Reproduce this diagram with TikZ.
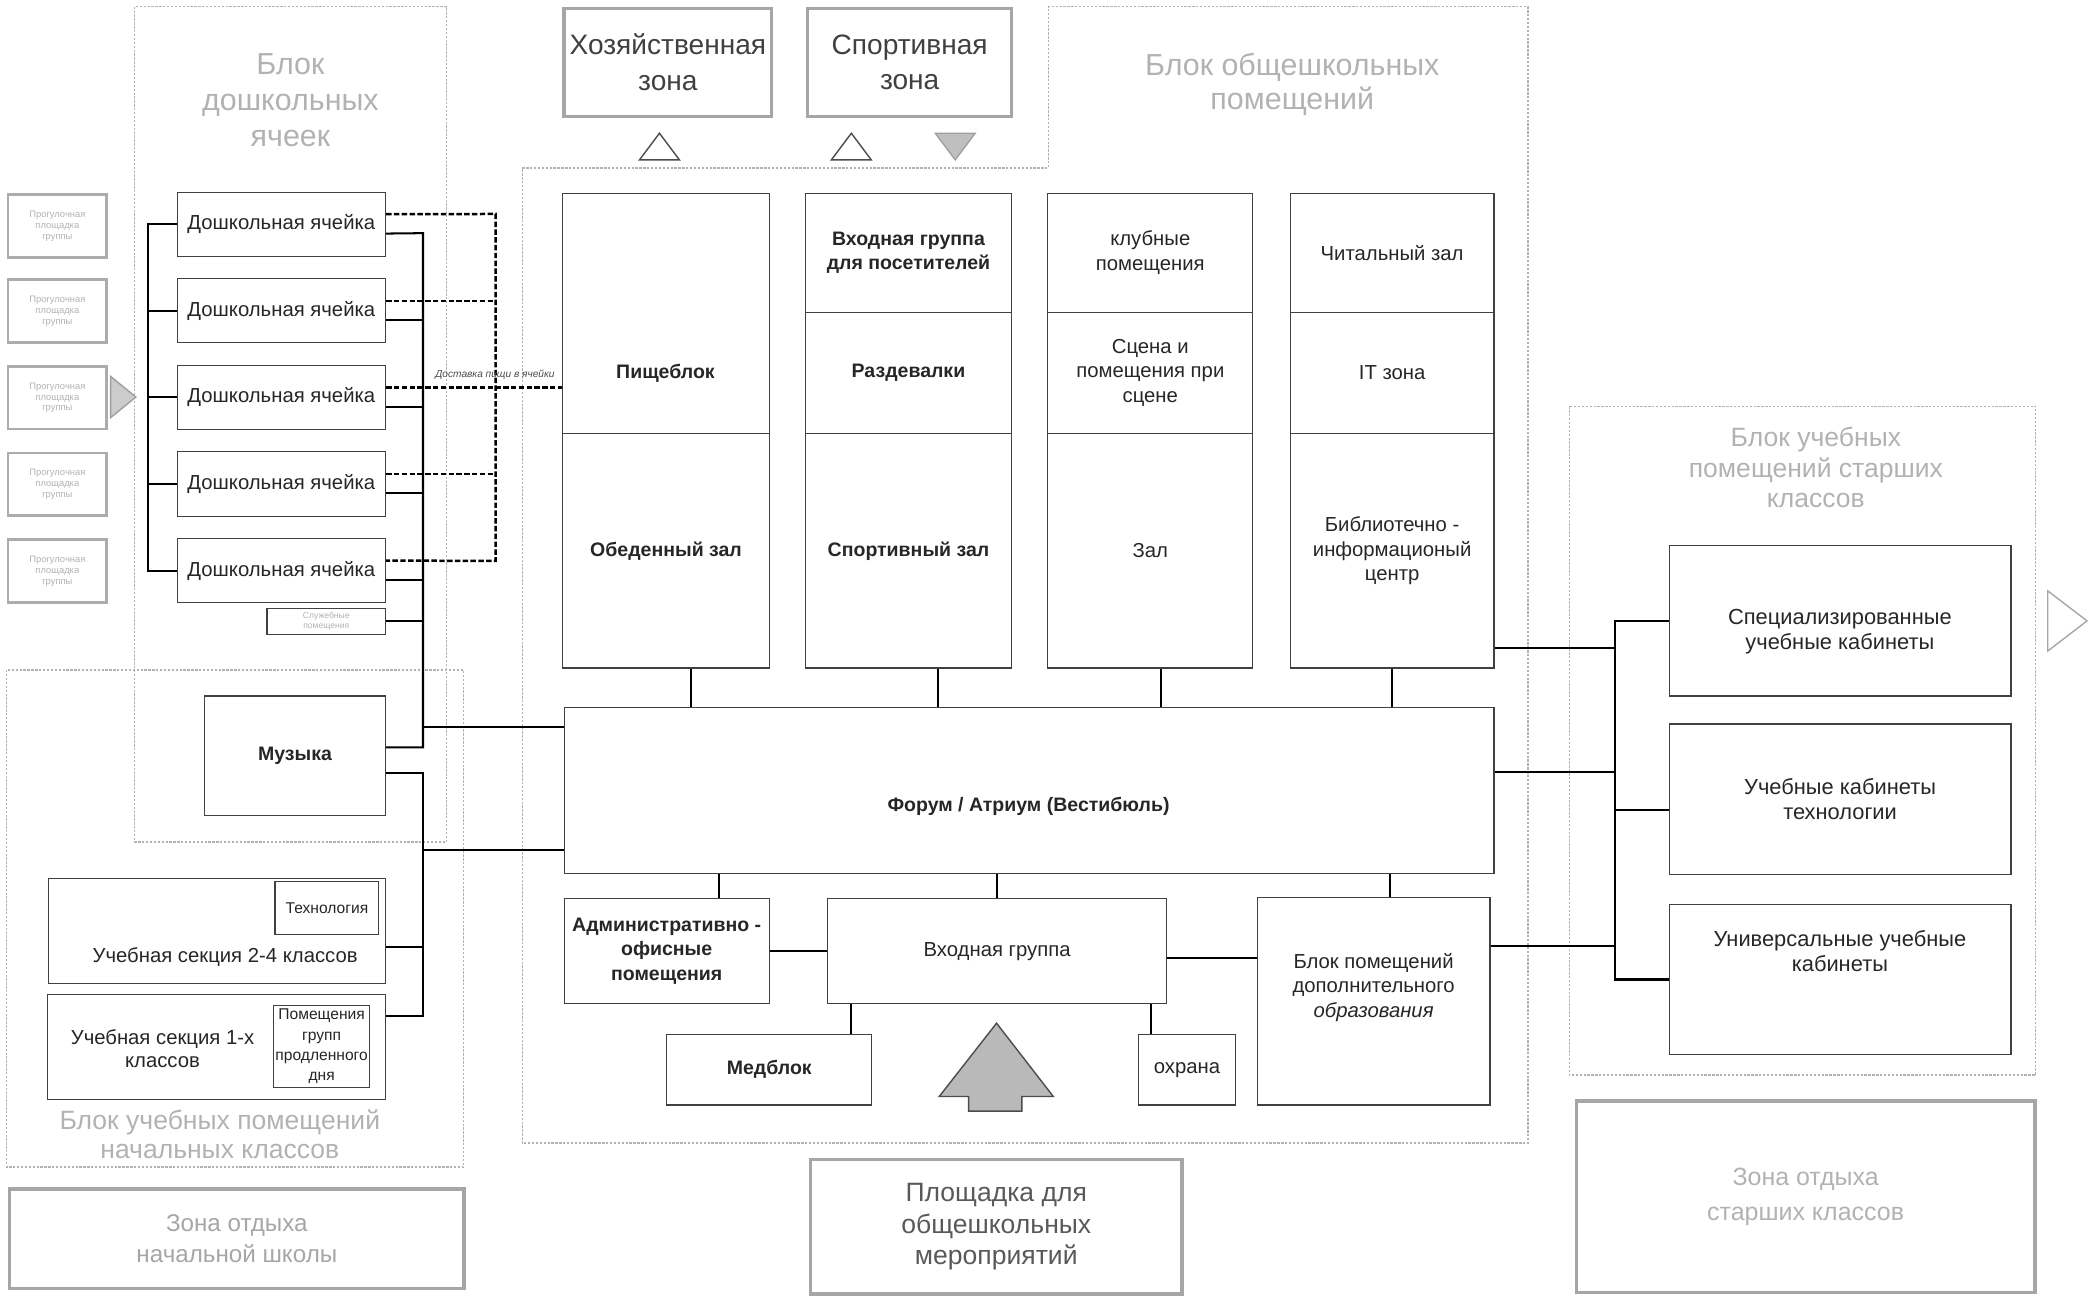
\documentclass[tikz,border=0pt]{standalone}
\usepackage{fontspec}
\setmainfont{Liberation Sans}
\usepackage{tikz}
\def\pxu{0.03cm}

\begin{document}
\begin{tikzpicture}[x=0.03cm,y=-0.03cm,
sz/.style 2 args={minimum width=#1*\pxu,minimum height=#2*\pxu},
room/.style={draw=black!75,line width=0.7pt,anchor=north west,inner sep=1pt,align=center,text=black!85,font=\fontsize{13}{15.6}\selectfont},
broom/.style={room,font=\fontsize{12.5}{15.5}\selectfont\bfseries},
sroom/.style={room,font=\fontsize{10}{13}\selectfont},
rroom/.style={room,font=\fontsize{14}{16}\selectfont},
txt/.style={inner sep=0pt,align=center,text=black!85,font=\fontsize{13}{15.6}\selectfont},
btxt/.style={txt,font=\fontsize{12.5}{15.5}\selectfont\bfseries},
zone/.style={draw=gray!70,line width=2.2pt,anchor=north west,inner sep=1pt,align=center,text=black!70,font=\fontsize{17}{20}\selectfont},
outbox/.style={draw=gray!65,line width=1.8pt,anchor=north west,inner sep=0pt,align=center,text=gray!60,font=\fontsize{6}{7}\selectfont},
grp/.style={draw=gray!60,line width=0.9pt,dash pattern=on 1.5pt off 1pt},
grptitle/.style={align=center,text=gray!60,font=\fontsize{19.5}{23}\selectfont},
con/.style={draw=black,line width=1.3pt},
dcon/.style={draw=black,line width=1.6pt,dash pattern=on 3.5pt off 1.5pt},
clabel/.style={inner sep=0pt,text=black!70,font=\fontsize{6.5}{7.5}\selectfont\itshape},
tri/.style={draw=black!70,line width=0.9pt,fill=white},
trifill/.style={draw=gray!75,line width=0.9pt,fill=gray!50}]
\useasboundingbox (0,0) rectangle (1568,974);

\draw[grp] (101,5) rectangle (335,632);
\draw[grp] (5,503) rectangle (348,876);
\draw[grp] (392,126) -- (787,126) -- (787,5) -- (1147,5) -- (1147,858) -- (392,858) -- cycle;
\draw[grp] (1178,305) rectangle (1528,807);
\node[grptitle] (tpre) at (218,75) {Блок\\дошкольных\\ячеек};
\node[grptitle,font=\fontsize{17}{18.5}\selectfont] (tprim) at (165,851.5) {Блок учебных помещений\\начальных классов};
\node[grptitle,font=\fontsize{19.5}{21.5}\selectfont] (tobsh) at (970,63.5) {Блок общешкольных\\помещений};
\node[grptitle,font=\fontsize{17}{19.5}\selectfont] (tsen) at (1363,351) {Блок учебных\\помещений старших\\классов};

\node[zone,sz={156}{81},font=\fontsize{18}{23}\selectfont,text=black!75] (hoz) at (422,5) {Хозяйственная\\зона};
\node[zone,sz={153}{81},font=\fontsize{18}{23}\selectfont,text=black!75] (sport) at (605,5) {Спортивная\\зона};
\node[zone,sz={279}{101},text=black!65] (plosh) at (607,869) {Площадка для\\общешкольных\\мероприятий};
\node[zone,sz={341}{75},font=\fontsize{15.5}{19.6}\selectfont,text=gray!70] (zn) at (6,891) {Зона отдыха\\начальной школы};
\node[zone,sz={344}{144},font=\fontsize{16}{22}\selectfont,text=gray!60] (zs) at (1182,825) {Зона отдыха\\старших классов};

\node[outbox,sz={74}{47}] (p1) at (5,145) {Прогулочная\\площадка\\группы};
\node[outbox,sz={74}{47}] (p2) at (5,209) {Прогулочная\\площадка\\группы};
\node[outbox,sz={74}{47}] (p3) at (5,274) {Прогулочная\\площадка\\группы};
\node[outbox,sz={74}{47}] (p4) at (5,339) {Прогулочная\\площадка\\группы};
\node[outbox,sz={74}{47}] (p5) at (5,404) {Прогулочная\\площадка\\группы};

\draw[tri] (480,120) -- (495,100) -- (510,120) -- cycle;
\draw[tri] (624,120) -- (639,100) -- (654,120) -- cycle;
\draw[trifill] (702,100) -- (732,100) -- (717,120) -- cycle;
\draw[trifill,fill=gray!40] (83,282.5) -- (102,298) -- (83,313.5) -- cycle;
\draw[tri,draw=gray!70] (1537,443.5) -- (1566.5,466) -- (1537,488.7) -- cycle;
\draw[trifill,draw=black!70,fill=gray!55] (748,768) -- (790.6,823) -- (767,823) -- (767,834) -- (727,834) -- (727,823) -- (705,823) -- cycle;

\node[room,sz={156.5}{48.25}] (c1) at (132.5,143.75) {Дошкольная ячейка};
\node[room,sz={156.5}{48.25}] (c2) at (132.5,208.75) {Дошкольная ячейка};
\node[room,sz={156.5}{48.25}] (c3) at (132.5,273.75) {Дошкольная ячейка};
\node[room,sz={156.5}{48.25}] (c4) at (132.5,338.75) {Дошкольная ячейка};
\node[room,sz={156.5}{48.25}] (c5) at (132.5,403.75) {Дошкольная ячейка};
\node[room,sz={89}{20},font=\fontsize{5.5}{6.5}\selectfont,text=gray!60] (serv) at (200,456) {Служебные\\помещения};

\node[broom,sz={136}{90}] (mus) at (153,522) {Музыка};
\node[room,sz={253.3}{78.7}] (s24) at (35.7,659) {};
\node[sroom,sz={78}{40}] (tech) at (206,661) {Технология};
\node[txt] (s24t) at (169,718) {Учебная секция 2-4 классов};
\node[room,sz={254}{79}] (s1) at (35,746) {};
\node[sroom,sz={72}{62}] (prod) at (205,754) {Помещения\\групп\\продленного\\дня};
\node[txt,font=\fontsize{13}{15}\selectfont] (s1t) at (122,787) {Учебная секция 1-х\\классов};

\node[broom,sz={155}{180.5}] (pish) at (422,144.5) {};
\node[btxt] (pisht) at (499.5,280) {Пищеблок};
\node[broom,sz={155}{176}] (obed) at (422,325) {Обеденный зал};
\node[broom,sz={155}{89.5}] (vhp) at (604,144.5) {Входная группа\\для посетителей};
\node[broom,sz={155}{91}] (razd) at (604,234) {Раздевалки};
\node[broom,sz={155}{176}] (szal) at (604,325) {Спортивный зал};
\node[room,sz={154}{89.5}] (klub) at (786,144.5) {клубные\\помещения};
\node[room,sz={154}{91}] (scena) at (786,234) {Сцена и\\помещения при\\сцене};
\node[room,sz={154}{176}] (zal) at (786,325) {Зал};
\node[room,sz={153}{89.5}] (chit) at (968,144.5) {Читальный зал};
\node[room,sz={153}{91}] (itz) at (968,234) {IT зона};
\node[room,sz={153}{176}] (bic) at (968,325) {Библиотечно -\\информационый\\центр};

\node[room,sz={698}{125}] (forum) at (423,530.5) {};
\node[btxt] (forumt) at (772,605) {Форум / Атриум (Вестибюль)};
\node[broom,sz={154}{79}] (adm) at (423,674) {Административно -\\офисные\\помещения};
\node[room,sz={254}{79}] (vhod) at (621,674) {Входная группа};
\node[room,sz={174.5}{156}] (dop) at (943.5,673) {};
\node[txt] (dopt) at (1031,741) {Блок помещений\\дополнительного\\\textit{образования}};
\node[broom,sz={154}{53}] (med) at (500,776) {Медблок};
\node[room,sz={73}{53}] (ohr) at (854,776) {охрана};

\node[rroom,sz={256.5}{113}] (spec) at (1252.5,409) {};
\node[txt,font=\fontsize{14}{16}\selectfont] (spect) at (1381,474) {Специализированные\\учебные кабинеты};
\node[rroom,sz={256.5}{113}] (tech2) at (1252.5,543) {Учебные кабинеты\\технологии};
\node[rroom,sz={256.5}{112.4}] (univ) at (1252.5,678.6) {};
\node[txt,font=\fontsize{14}{16}\selectfont] (univt) at (1381,714) {Универсальные учебные\\кабинеты};

\coordinate (lb) at (111.4,167);
\coordinate (bt) at (317.5,175);
\coordinate (bm) at (317.5,561);
\coordinate (bl) at (317.5,580);
\coordinate (dt) at (372,160.6);
\coordinate (db) at (372,421);
\coordinate (rb) at (1212,468.6);

\draw[con] (c1.west) -- (c1.west -| lb) -- (c5.west -| lb) -- (c5.west);
\draw[con] (c2.west) -- (c2.west -| lb);
\draw[con] (c3.west) -- (c3.west -| lb);
\draw[con] (c4.west) -- (c4.west -| lb);

\draw[con] ([yshift=-6pt]c1.east) -- (bt) -- (bm) -- (bm -| mus.east);
\draw[con] (bt) |- ([yshift=-6pt]c2.east);
\draw[con] (bt) |- ([yshift=-6pt]c3.east);
\draw[con] (bt) |- ([yshift=-6pt]c4.east);
\draw[con] (bt) |- ([yshift=-6pt]c5.east);
\draw[con] (bt) |- (serv.east);
\draw[con] (bt) |- ([yshift=-13pt]forum.north west);
\draw[con] (bl -| mus.east) -- (bl) |- ([yshift=-14pt]s1.north east);
\draw[con] (bl) |- ([yshift=-10pt]s24.east);
\draw[con] (bl) |- ([yshift=15.7pt]forum.south west);

\coordinate (c2d) at ([yshift=6.4pt]c2.east);
\coordinate (c3d) at ([yshift=6.4pt]c3.east);
\coordinate (c4d) at ([yshift=6.4pt]c4.east);
\draw[dcon] ([yshift=6.4pt]c1.east) -- (dt) -- (db) -- ([yshift=6.4pt]c5.east);
\draw[dcon] (c2d) -- (c2d -| dt);
\draw[dcon] (c4d) -- (c4d -| dt);
\draw[dcon] (c3d) -- (c3d -| pish.west);
\node[clabel] (dlab) at (371.5,281.5) {Доставка пищи в ячейки};

\coordinate (k1) at ([xshift=15.8pt]obed.south);
\coordinate (k2) at ([xshift=18.9pt]szal.south);
\coordinate (k3) at ([xshift=6.8pt]zal.south);
\draw[con] (k1) -- (k1 |- forum.north);
\draw[con] (k2) -- (k2 |- forum.north);
\draw[con] (k3) -- (k3 |- forum.north);
\draw[con] (bic.south) -- (bic.south |- forum.north);

\coordinate (k5) at ([xshift=33.3pt]adm.north);
\coordinate (k6) at ([xshift=10.5pt]dop.north);
\coordinate (k7) at ([yshift=-4.7pt]vhod.east);
\coordinate (k8) at ([xshift=15.4pt]vhod.south west);
\coordinate (k9) at ([xshift=-10.2pt]vhod.south east);
\draw[con] (k5) -- (k5 |- forum.south);
\draw[con] (vhod.north) -- (vhod.north |- forum.south);
\draw[con] (k6) -- (k6 |- forum.south);
\draw[con] (adm.east) -- (adm.east -| vhod.west);
\draw[con] (k7) -- (k7 -| dop.west);
\draw[con] (k8) -- (k8 |- med.north);
\draw[con] (k9) -- (k9 |- ohr.north);

\coordinate (t2) at ([yshift=-7pt]tech2.west);
\coordinate (r1) at ([yshift=13.4pt]bic.south east);
\coordinate (r2) at ([yshift=12pt]forum.east);
\coordinate (r3) at ([yshift=35pt]dop.east);
\draw[con] (spec.west) -| (univ.west -| rb) -- (univ.west);
\draw[con] (t2) -- (t2 -| rb);
\draw[con] (r1) -- (r1 -| rb);
\draw[con] (r2) -- (r2 -| rb);
\draw[con] (r3) -- (r3 -| rb);
\end{tikzpicture}
\end{document}
